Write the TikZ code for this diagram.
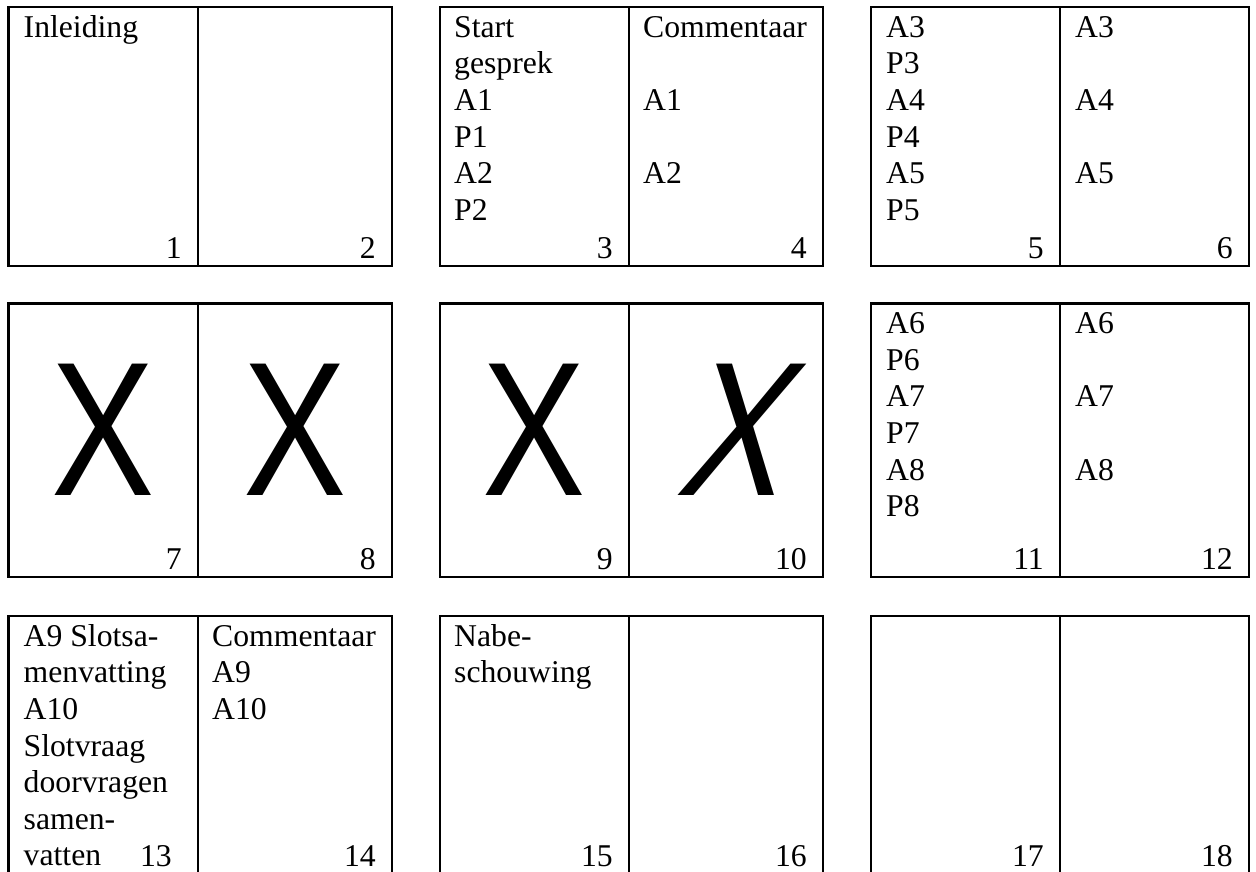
\documentclass[tikz,border=0pt]{standalone}
\usepackage{fontspec}
\setmainfont{Liberation Serif}
\newfontfamily\xfont[FakeStretch=0.81]{Liberation Sans}
\newfontfamily\xslfont[FakeStretch=0.81,FakeSlant=0.27]{Liberation Sans}
\usetikzlibrary{positioning,calc}
\tikzset{
  page/.style={rectangle, draw=black, line width=2.2pt, inner sep=0pt, outer sep=0pt, anchor=north west},
  pagetxt/.style={anchor=north west, inner sep=0pt, align=left, font=\fontsize{31.7}{36.6}\selectfont},
  pagenr/.style={anchor=base east, inner sep=0pt, font=\fontsize{31.7}{36.6}\selectfont},
  bigx/.style={inner sep=0pt, font=\xfont\fontsize{191}{191}\selectfont}
}
\begin{document}
\begin{tikzpicture}[x=1pt, y=-1pt]
 \useasboundingbox (0,0) rectangle (1256,872);
 % three rows of spreads, two pages each
 \foreach \r/\y/\h in {0/7/259, 1/303.5/273.5, 2/616/258}
  \foreach \c/\x/\w in {1/8.5/189.5, 2/198/194, 3/440/189, 4/629/194, 5/871/189, 6/1060/189} {
   \pgfmathtruncatemacro\n{6*\r+\c}
   \node[page, minimum width=\w pt, minimum height=\h pt] (p\n) at (\x,\y) {};
  }
 \foreach \n in {1,...,12,14,15,16,17,18}
  \node[pagenr] (n\n) at ($(p\n.south east)+(-16,-8)$) {\n};
 \node[pagenr] (n13) at ($(p13.south east)+(-26,-8)$) {13};
 % texts
 \node[pagetxt] (t1) at ($(p1.north west)+(15,4.4)$) {\strut Inleiding};
 \node[pagetxt] (t3) at ($(p3.north west)+(14,4.4)$) {\strut Start\\gesprek\\A1\\P1\\A2\\P2};
 \node[pagetxt] (t4) at ($(p4.north west)+(14,4.4)$) {\strut Commentaar\\\mbox{}\\A1\\\mbox{}\\A2};
 \node[pagetxt] (t5) at ($(p5.north west)+(15,4.4)$) {\strut A3\\P3\\A4\\P4\\A5\\P5};
 \node[pagetxt] (t6) at ($(p6.north west)+(15,4.4)$) {\strut A3\\\mbox{}\\A4\\\mbox{}\\A5};
 \node[pagetxt] (t11) at ($(p11.north west)+(15,4.4)$) {\strut A6\\P6\\A7\\P7\\A8\\P8};
 \node[pagetxt] (t12) at ($(p12.north west)+(15,4.4)$) {\strut A6\\\mbox{}\\A7\\\mbox{}\\A8};
 \node[pagetxt] (t13) at ($(p13.north west)+(15,4.4)$) {\strut A9 Slotsa-\\menvatting\\A10\\Slotvraag\\doorvragen\\samen-\\vatten};
 \node[pagetxt] (t14) at ($(p14.north west)+(14,4.4)$) {\strut Commentaar\\A9\\A10};
 \node[pagetxt] (t15) at ($(p15.north west)+(14,4.4)$) {\strut Nabe-\\schouwing};
 % crossed-out pages
 \node[bigx] (x7) at ($(p7.center)+(0,-10)$) {X};
 \node[bigx] (x8) at ($(p8.center)+(0,-10)$) {X};
 \node[bigx] (x9) at ($(p9.center)+(0,-10)$) {X};
 \node[bigx, font=\xslfont\fontsize{191}{191}\selectfont] (x10) at ($(p10.center)+(0,-10)$) {X};
\end{tikzpicture}
\end{document}
